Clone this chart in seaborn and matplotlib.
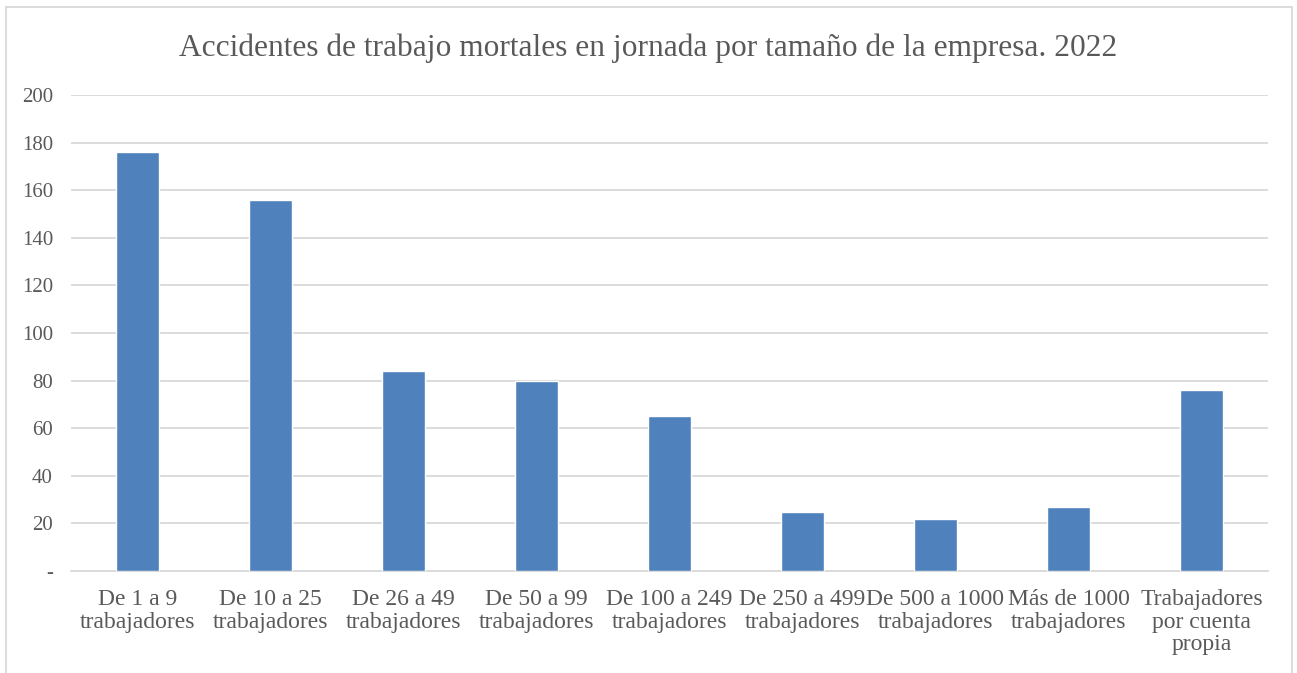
import matplotlib
matplotlib.use("Agg")
import matplotlib.pyplot as plt
import seaborn as sns
import pandas as pd
from matplotlib.patches import Rectangle

categories = [
    "De 1 a 9\ntrabajadores",
    "De 10 a 25\ntrabajadores",
    "De 26 a 49\ntrabajadores",
    "De 50 a 99\ntrabajadores",
    "De 100 a 249\ntrabajadores",
    "De 250 a 499\ntrabajadores",
    "De 500 a 1000\ntrabajadores",
    "Más de 1000\ntrabajadores",
    "Trabajadores\npor cuenta\npropia",
]
accidentes = [176, 156, 84, 80, 65, 25, 22, 27, 76]
yticks = [0, 20, 40, 60, 80, 100, 120, 140, 160, 180, 200]
ytick_labels = ["-"] + [str(v) for v in yticks[1:]]

sns.set_theme(style="white")
plt.rcParams["font.family"] = ["Liberation Serif", "DejaVu Serif"]

text_color = "#595959"
grid_color = "#D9D9D9"
bar_color = "#4F81BD"

df = pd.DataFrame({"categoria": categories, "valor": accidentes})

fig = plt.figure(figsize=(12.97, 6.73), dpi=100)
ax = fig.add_axes([71 / 1297, 1 - 571 / 673, (1268 - 71) / 1297, (571 - 95) / 673])

sns.barplot(data=df, x="categoria", y="valor", color=bar_color, width=0.316,
            saturation=1, ax=ax, zorder=3)

ax.set_ylim(0, 200)
ax.set_yticks(yticks)
ax.set_yticklabels(ytick_labels)
ax.set_xlim(-0.5, len(categories) - 0.5)
ax.set_xlabel("")
ax.set_ylabel("")

ax.yaxis.grid(True, color=grid_color, linewidth=1.3, zorder=0)
ax.set_axisbelow(True)
for side in ["top", "right", "left"]:
    ax.spines[side].set_visible(False)
ax.spines["bottom"].set_color(grid_color)
ax.spines["bottom"].set_linewidth(1.3)

ax.tick_params(axis="both", length=0, colors=text_color)
ax.tick_params(axis="y", pad=13, labelsize=15)
ax.tick_params(axis="x", pad=13, labelsize=17)
for lbl in ax.get_xticklabels():
    lbl.set_linespacing(1.1)

fig.text(0.5, 1 - 48 / 673, "Accidentes de trabajo mortales en jornada por tamaño de la empresa. 2022",
         ha="center", va="center", fontsize=22.6, color=text_color)

fig.patches.append(Rectangle((6 / 1297, -0.01), 1286 / 1297, 1.0, transform=fig.transFigure,
                             fill=False, edgecolor="#D9D9D9", linewidth=1.3))

fig.savefig("out.png", dpi=100, facecolor="white")
